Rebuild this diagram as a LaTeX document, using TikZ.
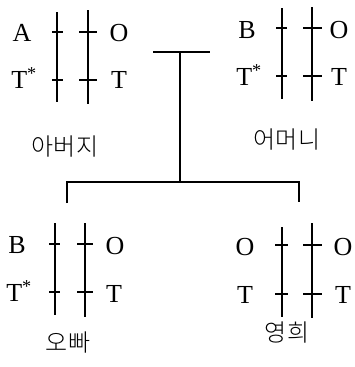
\documentclass[tikz,border=0pt]{standalone}
\usepackage{fontspec}
\setmainfont{Liberation Serif}
\newfontfamily\kr[UprightFont={* Light}]{Noto Sans CJK KR}
\begin{document}
\begin{tikzpicture}[x=1pt,y=-1pt,
  lbl/.style={font=\fontsize{26}{30}\selectfont, inner sep=0pt, anchor=center},
  krl/.style={font=\kr\fontsize{24}{28}\selectfont, inner sep=0pt},
  chrom/.style={line width=1.2pt},
  conn/.style={line width=1.1pt}]
\useasboundingbox (0,0) rectangle (355,367);
% father
\node[lbl] (fA) at (22,33) {A};
\node[lbl] (fT1) at (24,78) {T\textsuperscript{*}};
\node[lbl] (fO) at (119,33) {O};
\node[lbl] (fT2) at (119,80) {T};
\draw[chrom] (57,12) -- (57,102) (52,32) -- (63,32) (52,80) -- (63,80);
\draw[chrom] (88,10) -- (88,104) (79,32) -- (97,32) (79,80) -- (97,80);
\node[krl] (father) at (65,147) {아버지};
% mother
\node[lbl] (mB) at (247,30) {B};
\node[lbl] (mT1) at (249,75) {T\textsuperscript{*}};
\node[lbl] (mO) at (339,30) {O};
\node[lbl] (mT2) at (339,77) {T};
\draw[chrom] (282,8) -- (282,99) (276,28) -- (287,28) (276,76) -- (287,76);
\draw[chrom] (312,7) -- (312,101) (303,28) -- (322,28) (303,76) -- (322,76);
\node[krl] (mother) at (287,140) {어머니};
% son
\node[lbl] (sB) at (17,245) {B};
\node[lbl] (sT1) at (19,291) {T\textsuperscript{*}};
\node[lbl] (sO) at (115,246) {O};
\node[lbl] (sT2) at (114,294) {T};
\draw[chrom] (55,223) -- (55,315) (49,244) -- (60,244) (49,292) -- (60,292);
\draw[chrom] (85,223) -- (85,317) (77,244) -- (93,244) (77,292) -- (93,292);
\node[krl] (son) at (68,343) {오빠};
% daughter
\node[lbl] (dO1) at (245,247) {O};
\node[lbl] (dT1) at (245,295) {T};
\node[lbl] (dO2) at (343,247) {O};
\node[lbl] (dT2) at (343,295) {T};
\draw[chrom] (282,227) -- (282,317) (275,245) -- (288,245) (275,294) -- (288,294);
\draw[chrom] (312,223) -- (312,318) (303,245) -- (322,245) (303,294) -- (322,294);
\node[krl] (daughter) at (287,333) {영희};
% pedigree connectors
\coordinate (mL) at (153,52);
\coordinate (mR) at (210,52);
\coordinate (mid) at (180,52);
\coordinate (bar) at (180,182);
\coordinate (barL) at (67,182);
\coordinate (barR) at (299,182);
\coordinate (sTop) at (67,203);
\coordinate (dTop) at (299,202);
\draw[conn] (mL) -- (mR);
\draw[conn] (mid) -- (bar);
\draw[conn] (sTop) -- (barL) -- (barR) -- (dTop);
\end{tikzpicture}
\end{document}
